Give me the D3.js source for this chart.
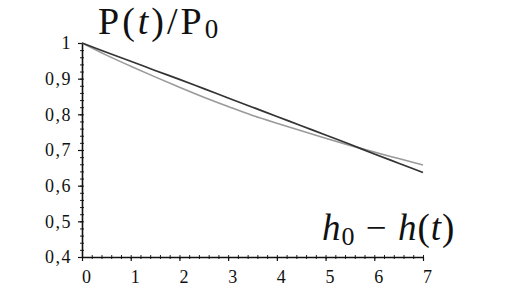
<!DOCTYPE html>
<html><head><meta charset="utf-8">
<script src="https://cdn.jsdelivr.net/npm/d3@7"></script>
<style>html,body{margin:0;padding:0;background:#fff}svg{display:block}</style>
</head><body>
<script>
// Data
const xs = [0, 0.5, 1, 1.5, 2, 2.5, 3, 3.5, 4, 4.5, 5, 5.5, 6, 6.5, 7];
const darkSeries = [1.000, 0.974, 0.949, 0.923, 0.898, 0.872, 0.846, 0.820, 0.794, 0.768, 0.742, 0.716, 0.689, 0.663, 0.637];
const greySeries = [1.000, 0.966, 0.935, 0.905, 0.876, 0.848, 0.822, 0.797, 0.775, 0.754, 0.733, 0.713, 0.694, 0.676, 0.658];
const xTicks = [0, 1, 2, 3, 4, 5, 6, 7];
const yTicks = [0.4, 0.5, 0.6, 0.7, 0.8, 0.9, 1];
const yTickLabels = ["0,4", "0,5", "0,6", "0,7", "0,8", "0,9", "1"];

const W = 530, H = 300;
const x = d3.scaleLinear().domain([0, 7]).range([82, 423]);
const y = d3.scaleLinear().domain([0.4, 1]).range([257, 43]);

const svg = d3.select("body").append("svg").attr("width", W).attr("height", H);
svg.append("rect").attr("width", W).attr("height", H).attr("fill", "#fff");

const font = '"Liberation Serif", serif';

// minor ticks
const xMinor = d3.range(0, 7.001, 0.2).map(v => +v.toFixed(2));
const yMinor = d3.range(0.4, 1.0001, 0.02).map(v => +v.toFixed(3));

const gxm = svg.append("g").attr("transform", `translate(0,${y(0.4)})`)
  .call(d3.axisBottom(x).tickValues(xMinor).tickSize(2).tickFormat(""));
gxm.select(".domain").remove();
gxm.selectAll("line").attr("y1", -2).attr("y2", 2).attr("stroke", "#222").attr("stroke-width", 1);

const gym = svg.append("g").attr("transform", `translate(${x(0)},0)`)
  .call(d3.axisLeft(y).tickValues(yMinor).tickSize(2).tickFormat(""));
gym.select(".domain").remove();
gym.selectAll("line").attr("x1", -2).attr("x2", 2).attr("stroke", "#222").attr("stroke-width", 1);

// major axes
const gx = svg.append("g").attr("transform", `translate(0,${y(0.4)})`)
  .call(d3.axisBottom(x).tickValues(xTicks).tickSize(4).tickSizeOuter(0).tickPadding(9).tickFormat(d3.format("d")));
gx.attr("font-family", font).attr("font-size", 18);
gx.select(".domain").attr("stroke", "#111").attr("stroke-width", 1.6);
gx.selectAll("line").attr("stroke", "#111").attr("stroke-width", 1.2);
gx.selectAll("text").attr("fill", "#111").attr("dx", 4);

const gy = svg.append("g").attr("transform", `translate(${x(0)},0)`)
  .call(d3.axisLeft(y).tickValues(yTicks).tickSize(4).tickSizeOuter(0).tickPadding(6)
    .tickFormat((d, i) => yTickLabels[i]));
gy.attr("font-family", font).attr("font-size", 18);
gy.select(".domain").attr("stroke", "#111").attr("stroke-width", 1.6);
gy.selectAll("line").attr("stroke", "#111").attr("stroke-width", 1.2);
gy.selectAll("text").attr("fill", "#111").attr("letter-spacing", 1.5);

// curves
const line = d3.line().x((d, i) => x(xs[i])).y(d => y(d)).curve(d3.curveMonotoneX);
svg.append("path").datum(greySeries).attr("d", line).attr("fill", "none")
  .attr("stroke", "#9a9a9a").attr("stroke-width", 1.6);
svg.append("path").datum(darkSeries).attr("d", line).attr("fill", "none")
  .attr("stroke", "#333").attr("stroke-width", 1.7);

// titles
const t1 = svg.append("text").attr("x", 98).attr("y", 34).attr("font-family", font)
  .attr("font-size", 38).attr("letter-spacing", 3).attr("fill", "#111");
t1.append("tspan").text("P(");
t1.append("tspan").attr("font-style", "italic").text("t");
t1.append("tspan").text(")/P");
t1.append("tspan").attr("font-size", 27).attr("dy", 4).text("0");

const t2 = svg.append("text").attr("x", 322).attr("y", 240).attr("font-family", font)
  .attr("font-size", 37).attr("letter-spacing", 1).attr("fill", "#111");
t2.append("tspan").attr("font-style", "italic").text("h");
t2.append("tspan").attr("font-size", 26).attr("dy", 5).text("0");
t2.append("tspan").attr("dy", -5).text(" \u2212 ");
t2.append("tspan").attr("font-style", "italic").text("h");
t2.append("tspan").text("(");
t2.append("tspan").attr("font-style", "italic").text("t");
t2.append("tspan").text(")");
</script>
</body></html>
